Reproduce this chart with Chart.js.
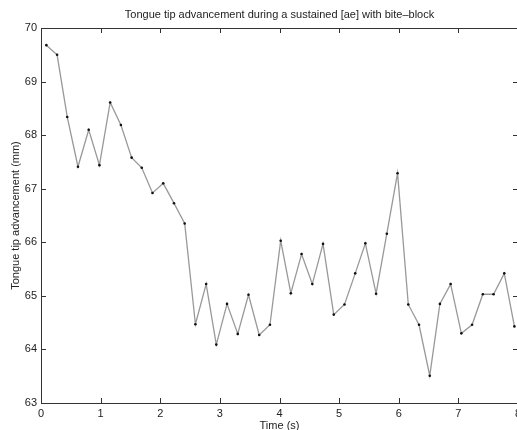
<!DOCTYPE html>
<html>
<head>
<meta charset="utf-8">
<script src="https://cdn.jsdelivr.net/npm/chart.js@4/dist/chart.umd.min.js"></script>
<style>
  html, body { margin: 0; padding: 0; background: #fff; overflow: hidden; }
  #wrap { width: 522px; height: 430px; }
</style>
</head>
<body>
<div id="wrap"><canvas id="chart"></canvas></div>
<script>
const times = [
  0.09, 0.27, 0.44, 0.62, 0.80, 0.98, 1.16, 1.34, 1.52, 1.69,
  1.87, 2.05, 2.23, 2.41, 2.59, 2.77, 2.94, 3.12, 3.30, 3.48,
  3.66, 3.84, 4.02, 4.19, 4.37, 4.55, 4.73, 4.91, 5.09, 5.27,
  5.44, 5.62, 5.80, 5.98, 6.16, 6.34, 6.52, 6.69, 6.87, 7.05,
  7.23, 7.41, 7.59, 7.77, 7.94
]
const advancement = [
  69.68, 69.50, 68.34, 67.41, 68.10, 67.44, 68.61, 68.19, 67.58, 67.39,
  66.92, 67.10, 66.73, 66.35, 64.47, 65.22, 64.09, 64.85, 64.29, 65.02,
  64.27, 64.46, 66.03, 65.05, 65.78, 65.22, 65.97, 64.65, 64.84, 65.42,
  65.98, 65.04, 66.16, 67.29, 64.84, 64.46, 63.51, 64.85, 65.22, 64.30,
  64.46, 65.03, 65.03, 65.42, 64.43
]
const xTicks = [0, 1, 2, 3, 4, 5, 6, 7, 8]
const yTicks = [63, 64, 65, 66, 67, 68, 69, 70]
const chartTitle = "Tongue tip advancement during a sustained [ae] with bite\u2013block"

const font = "'Liberation Sans', Arial, Helvetica, sans-serif"
const textColor = "#222"
const axisColor = "#333"

// box round the plot with short ticks pointing inward on all four sides
const framePlugin = {
  id: "frame",
  afterDatasetsDraw(chart) {
    const { ctx, chartArea: a, scales } = chart
    const len = 5
    ctx.save()
    ctx.strokeStyle = axisColor
    ctx.lineWidth = 1
    ctx.beginPath()
    ctx.rect(Math.round(a.left) + 0.5, Math.round(a.top) + 0.5,
      Math.round(a.right - a.left), Math.round(a.bottom - a.top))
    xTicks.forEach(v => {
      const x = Math.round(scales.x.getPixelForValue(v)) + 0.5
      ctx.moveTo(x, a.bottom); ctx.lineTo(x, a.bottom - len)
      ctx.moveTo(x, a.top); ctx.lineTo(x, a.top + len)
    })
    yTicks.forEach(v => {
      const y = Math.round(scales.y.getPixelForValue(v)) + 0.5
      ctx.moveTo(a.left, y); ctx.lineTo(a.left + len, y)
      ctx.moveTo(a.right, y); ctx.lineTo(a.right - len, y)
    })
    ctx.stroke()
    ctx.restore()
  }
}

new Chart(document.getElementById("chart"), {
  type: "line",
  data: {
    datasets: [{
      data: times.map((t, i) => ({ x: t, y: advancement[i] })),
      borderColor: "#999",
      borderWidth: 1.3,
      pointRadius: 1.3,
      pointBackgroundColor: "#111",
      pointBorderWidth: 0,
      tension: 0
    }]
  },
  options: {
    responsive: true,
    maintainAspectRatio: false,
    animation: false,
    layout: { padding: { top: 0, left: 0, right: 3, bottom: 0 } },
    plugins: {
      legend: { display: false },
      tooltip: { enabled: false }
    },
    scales: {
      // top axis only carries the title so it centres over the plot
      top: {
        type: "linear",
        position: "top",
        min: 0,
        max: 8,
        afterFit: s => { s.height = 28; s.paddingLeft = 0; s.paddingRight = 0 },
        grid: { display: false, drawTicks: false },
        border: { display: false },
        ticks: { display: false },
        title: {
          display: true,
          text: chartTitle,
          color: textColor,
          font: { family: font, size: 11, lineHeight: 1.2 },
          padding: { top: 8, bottom: 0 }
        }
      },
      x: {
        type: "linear",
        min: 0,
        max: 8,
        afterBuildTicks: s => { s.ticks = xTicks.map(v => ({ value: v })) },
        afterFit: s => { s.height = 27; s.paddingLeft = 0; s.paddingRight = 0 },
        grid: { display: false, drawTicks: false },
        border: { display: false },
        ticks: { color: textColor, font: { family: font, size: 11 }, padding: 4, maxRotation: 0 },
        title: {
          display: true,
          text: "Time (s)",
          color: textColor,
          font: { family: font, size: 11, lineHeight: 1 },
          padding: { top: 0, bottom: -1 }
        }
      },
      y: {
        min: 63,
        max: 70,
        afterBuildTicks: s => { s.ticks = yTicks.map(v => ({ value: v })) },
        afterFit: s => { s.width = 41; s.paddingTop = 0; s.paddingBottom = 0 },
        grid: { display: false, drawTicks: false },
        border: { display: false },
        ticks: { color: textColor, font: { family: font, size: 11 }, padding: 4 },
        title: {
          display: true,
          text: "Tongue tip advancement (mm)",
          color: textColor,
          font: { family: font, size: 11, lineHeight: 1.2 },
          padding: { top: 9.4, bottom: 0 }
        }
      }
    }
  },
  plugins: [framePlugin]
})
</script>
</body>
</html>
